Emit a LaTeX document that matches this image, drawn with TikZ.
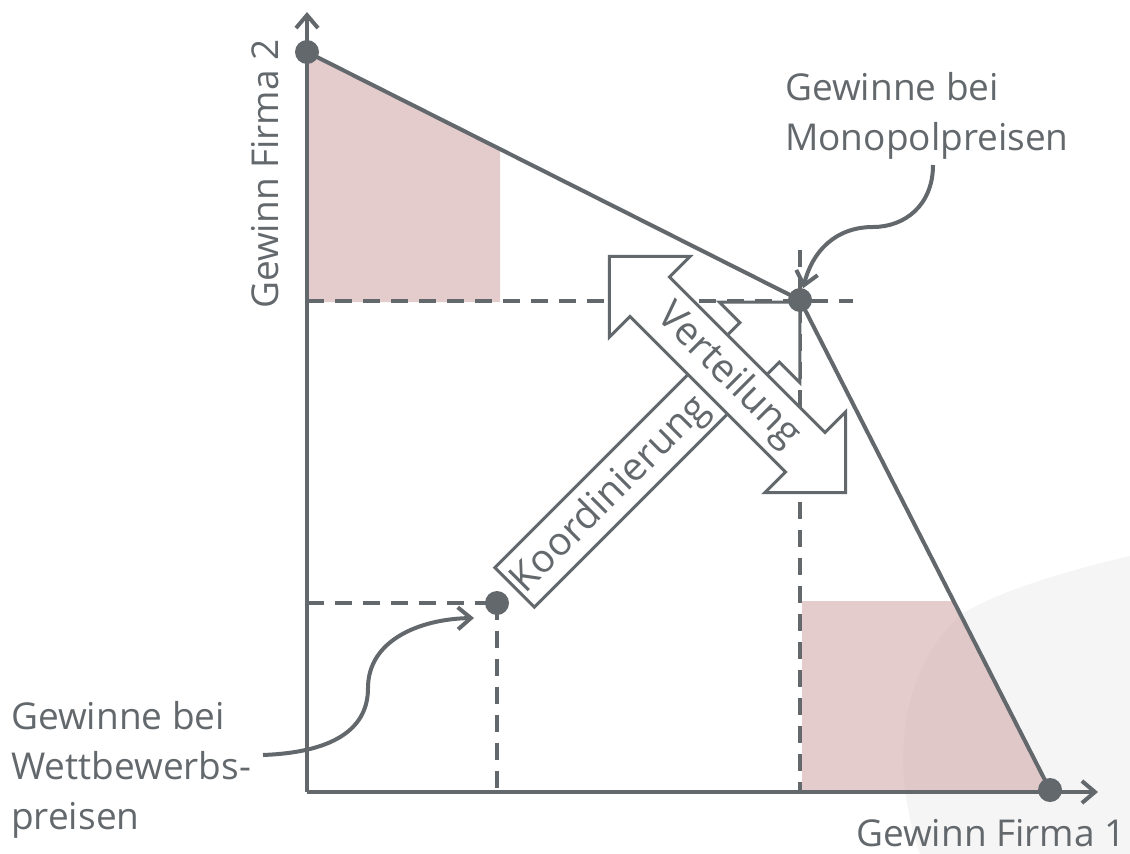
\documentclass[tikz,border=0pt]{standalone}
\usepackage{fontspec}
\setmainfont{Open Sans}
\usetikzlibrary{arrows.meta,calc}
\definecolor{lg}{RGB}{99,104,108}
\definecolor{shadecol}{RGB}{210,170,172}
\definecolor{blobcol}{RGB}{245,245,245}
\begin{document}
\begin{tikzpicture}[x=1pt,y=-1pt,
  lbl/.style={inner sep=0pt, text=lg, font=\fontsize{37}{50}\selectfont},
  arrtxt/.style={inner sep=0pt, text=lg, font=\fontsize{39}{46}\selectfont},
  dot/.style={circle, fill=lg, minimum size=24pt, inner sep=0pt},
  axis/.style={draw=lg, line width=4pt, -{Straight Barb[length=13pt,width=22pt]}},
  dsh/.style={draw=lg, line width=3.5pt, dash pattern=on 17pt off 11pt},
  blk/.style={draw=lg, fill=white, line width=3pt, line join=miter},
  conn/.style={draw=lg, line width=4pt, -{Straight Barb[length=13pt,width=22pt]}},
  shd/.style={fill=shadecol, fill opacity=0.6}
]
\useasboundingbox (0,0) rectangle (1130,854);
% background blob
\fill[blobcol] (920,854) .. controls (894,780) and (892,680) .. (960,615)
  .. controls (1000,590) and (1070,570) .. (1130,556) -- (1130,854) -- cycle;
% coordinates
\coordinate (O) at (307,792);
\coordinate (ytop) at (307,12);
\coordinate (xend) at (1098,792);
\coordinate (A) at (307,52);
\coordinate (M) at (800,300);
\coordinate (B) at (1050,790);
\coordinate (W) at (497,603);
% shaded regions
\fill[shd] (A) -- (500,148.6) -- (500,302) -- (307,302) -- cycle;
\fill[shd] (802,601) -- (953.6,601) -- (B) -- (802,790) -- cycle;
% dashed guides
\draw[dsh] (307,301) -- (853,301);
\draw[dsh] (800,250) -- (800,792);
\draw[dsh] (307,603) -- (W);
\draw[dsh] (W) -- (497,792);
% axes
\draw[axis] (O) -- (ytop);
\draw[axis] (O) -- (xend);
% frontier
\draw[draw=lg, line width=4pt, line join=round] (A) -- (M) -- (B);
% Koordinierung block arrow
\begin{scope}[shift={(727.5,374.5)}, rotate=45]
\draw[blk] (-301,-28) -- (45.5,-28) -- (45.5,-57) -- (102.5,0) -- (45.5,57) -- (45.5,28) -- (-301,28) -- cycle;
\end{scope}
% Verteilung block arrow
\begin{scope}[shift={(727.5,374.5)}, rotate=-45]
\draw[blk] (-167,0) -- (-110,57) -- (-110,28) -- (110,28) -- (110,57) -- (167,0)
  -- (110,-57) -- (110,-28) -- (-110,-28) -- (-110,-57) -- cycle;
\end{scope}
\node[arrtxt, rotate=45] (koord) at (611,495) {Koordinierung};
\node[arrtxt, rotate=-45] (vert) at (728,376) {Verteilung};
% dots
\node[dot] (pa) at (A) {};
\node[dot] (mono) at (M) {};
\node[dot] (pb) at (B) {};
\node[dot] (comp) at (W) {};
% labels
\node[lbl, anchor=base west] (m1) at (785,100) {Gewinne bei};
\node[lbl, anchor=base west] (m2) at (785,150) {Monopolpreisen};
\node[lbl, anchor=base west] (w1) at (11,729) {Gewinne bei};
\node[lbl, anchor=base west] (w2) at (11,779) {Wettbewerbs-};
\node[lbl, anchor=base west] (w3) at (11,829) {preisen};
\node[lbl, anchor=base west] (xl) at (856,846) {Gewinn Firma 1};
\node[lbl, anchor=base west, rotate=90] (yl) at (278,309) {Gewinn Firma 2};
% connectors
\coordinate (mstart) at (933,165);
\coordinate (mbend) at (873,227);
\draw[conn] (mstart) .. controls (933,205) and (905,227) .. (mbend)
  .. controls (835,227) and (812,252) .. (mono.75);
\coordinate (wstart) at (263,755);
\coordinate (wbend) at (368,688);
\coordinate (wtip) at (474,618);
\draw[conn] (wstart) .. controls (340,752) and (368,725) .. (wbend)
  .. controls (368,640) and (420,619) .. (wtip);
\end{tikzpicture}
\end{document}
